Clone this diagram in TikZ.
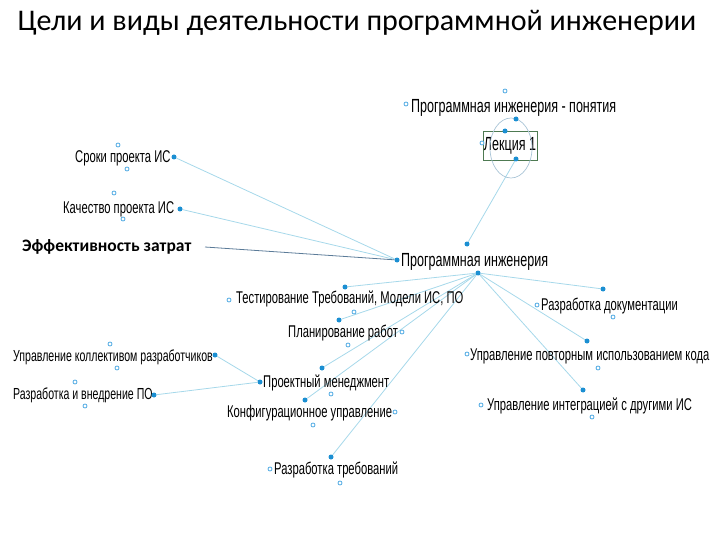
\documentclass[tikz,border=0pt]{standalone}
\usepackage{fontspec}
\setmainfont{Carlito}
\newfontfamily\mapfont[FakeStretch=0.66]{Liberation Sans}
\usetikzlibrary{positioning, backgrounds}
\definecolor{dotBlue}{HTML}{1B8FD2}
\definecolor{linkBlue}{HTML}{A6D8EA}
\definecolor{holeBlue}{HTML}{4FA9E3}
\definecolor{costLine}{HTML}{5B7B98}
\definecolor{boxGreen}{HTML}{4E7A52}
\definecolor{ringGrey}{HTML}{A9C4D6}

\begin{document}
\begin{tikzpicture}[
    x=1pt, y=-1pt,
    topic/.style={inner sep=0pt, anchor=west, font=\mapfont\fontsize{19}{20}\selectfont},
    sub/.style={inner sep=0pt, anchor=west, font=\mapfont\fontsize{17}{18}\selectfont},
    dot/.style={circle, fill=dotBlue, inner sep=0pt, minimum size=5pt},
    hole/.style={circle, draw=holeBlue, fill=white, line width=0.8pt, inner sep=0pt, minimum size=4pt},
    link/.style={draw=linkBlue, line width=0.8pt}
]
    \useasboundingbox (0,0) rectangle (720,540);

    % title
    \node[font=\fontsize{30}{32}\selectfont] (title) at (357,23) {Цели и виды деятельности программной инженерии};

    % topics
    \node[topic] (ponyatia) at (411,108) {Программная инженерия - понятия};
    \node[topic, anchor=center, draw=boxGreen, line width=0.8pt, minimum width=54pt, minimum height=29pt] (lekcia) at (510,146) {Лекция 1};
    \node[topic] (main) at (401,262) {Программная инженерия};
    \node[font=\bfseries\fontsize{17.5}{19}\selectfont, inner sep=0pt, anchor=west] (cost) at (22,247) {Эффективность затрат};

    % goals
    \node[sub] (sroki) at (75,158) {Сроки проекта ИС};
    \node[sub] (quality) at (63,209) {Качество проекта ИС};

    % activities
    \node[sub] (testing) at (236,299) {Тестирование Требований, Модели ИС, ПО};
    \node[sub] (planning) at (288,333) {Планирование работ};
    \node[sub] (mgmt) at (263,383) {Проектный менеджмент};
    \node[sub] (config) at (227,413) {Конфигурационное управление};
    \node[sub] (reqs) at (274,470) {Разработка требований};
    \node[sub] (docs) at (541,306) {Разработка документации};
    \node[sub] (reuse) at (470,356) {Управление повторным использованием кода};
    \node[sub] (integr) at (487,406) {Управление интеграцией с другими ИС};
    \node[sub, font=\mapfont\fontsize{16}{17}\selectfont] (team) at (13,357) {Управление коллективом разработчиков};
    \node[sub, font=\mapfont\fontsize{16}{17}\selectfont] (deploy) at (13,395) {Разработка и внедрение ПО};

    % ring round the lecture
    \draw[ringGrey, line width=0.7pt] (511,148) ellipse (21 and 30);

    % dots
    \node[dot] (ponyatiaD) at (516,119) {};
    \node[dot] (lekciaT) at (505,131) {};
    \node[dot] (lekciaB) at (516,159) {};
    \node[dot] (mainL) at (397,260) {};
    \node[dot] (mainT) at (467,244) {};
    \node[dot] (mainB) at (478,273) {};
    \node[dot] (srokiD) at (174,157) {};
    \node[dot] (qualityD) at (180,209) {};
    \coordinate (costD) at (205,247);
    \node[dot] (testingD) at (345,287) {};
    \node[dot] (planningD) at (339,320) {};
    \node[dot] (mgmtT) at (322,368) {};
    \node[dot] (mgmtL) at (260,382) {};
    \node[dot] (configD) at (305,400) {};
    \node[dot] (reqsD) at (331,457) {};
    \node[dot] (docsD) at (603,289) {};
    \node[dot] (reuseD) at (587,341) {};
    \node[dot] (integrD) at (583,390) {};
    \node[dot] (teamD) at (215,355) {};
    \node[dot] (deployD) at (154,395) {};

    % open handles
    \foreach \hx/\hy in {505/91, 406/104, 482/143, 118/145, 127/169, 114/193, 123/219,
        229/300, 354/312, 402/332, 348/345, 331/394, 395/412, 313/425, 270/469, 340/483,
        537/305, 613/317, 467/354, 598/368, 481/405, 592/417, 110/344, 117/368, 75/382, 85/406}
        \node[hole] at (\hx,\hy) {};

    % connectors
    \begin{scope}[on background layer]
        \draw[link] (lekciaB) -- (mainT);
        \draw[link] (mainL) -- (srokiD);
        \draw[link] (mainL) -- (qualityD);
        \draw[costLine, line width=0.8pt] (mainL) -- (costD);
        \draw[link] (mainB) -- (testingD);
        \draw[link] (mainB) -- (planningD);
        \draw[link] (mainB) -- (mgmtT);
        \draw[link] (mainB) -- (configD);
        \draw[link] (mainB) -- (reqsD);
        \draw[link] (mainB) -- (docsD);
        \draw[link] (mainB) -- (reuseD);
        \draw[link] (mainB) -- (integrD);
        \draw[link] (mgmtL) -- (teamD);
        \draw[link] (mgmtL) -- (deployD);
    \end{scope}
\end{tikzpicture}
\end{document}
